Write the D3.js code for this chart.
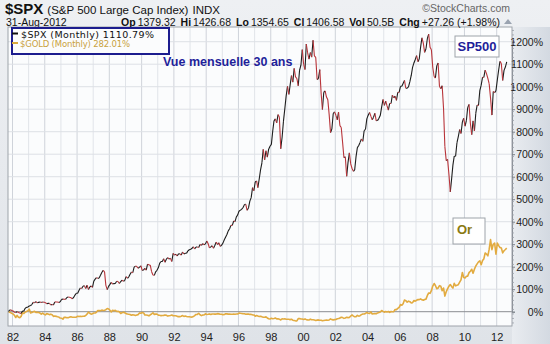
<!DOCTYPE html>
<html><head><meta charset="utf-8">
<script src="https://cdn.jsdelivr.net/npm/d3@7/dist/d3.min.js"></script>
<style>
html,body{margin:0;padding:0;background:#e8ebef;}
svg{display:block;font-family:"Liberation Sans",Arial,sans-serif;}
</style></head>
<body><svg id="c" width="550" height="344"></svg>
<script>
// ---- data (monthly closes, Sep 1981 .. Aug 2012) ----
const startYear = 1981, startMonth = 8; // September 1981
const spxClose = [
116.18,121.89,126.35,122.55,
120.40,113.11,111.96,116.44,111.88,109.61,107.09,119.51,120.42,133.71,138.54,140.64,
145.30,148.06,152.96,164.42,162.39,168.11,162.56,164.40,166.07,163.55,166.40,164.93,
163.41,157.06,159.18,160.05,150.55,153.18,150.66,166.68,166.10,166.09,163.58,167.24,
179.63,181.18,180.66,179.83,189.55,191.85,190.92,188.63,182.08,189.82,202.17,211.28,
211.78,226.92,238.90,235.52,247.35,250.84,236.12,252.93,231.32,243.98,249.22,242.17,
274.08,284.20,291.70,288.36,290.10,304.00,318.66,329.80,321.83,251.79,230.30,247.08,
257.07,267.82,258.89,261.33,262.16,273.50,272.02,261.52,271.91,278.97,273.70,277.72,
297.47,288.86,294.87,309.64,320.52,317.98,346.08,351.45,349.15,340.36,345.99,353.40,
329.08,331.89,339.94,330.80,361.23,358.02,356.15,322.56,306.05,304.00,322.22,330.22,
343.93,367.07,375.22,375.34,389.83,371.16,387.81,395.43,387.86,392.46,375.22,417.09,
408.79,412.70,403.69,414.95,415.35,408.14,424.21,414.03,417.80,418.68,431.35,435.71,
438.78,443.38,451.67,440.19,450.19,450.53,448.13,463.56,458.93,467.83,461.79,466.45,
481.61,467.14,445.77,450.91,456.50,444.27,458.26,475.49,462.69,472.35,453.69,459.27,
470.42,487.39,500.71,514.71,533.40,544.75,562.06,561.88,584.41,581.50,605.37,615.93,
636.02,640.43,645.50,654.17,669.12,670.63,639.95,651.99,687.31,705.27,757.02,740.74,
786.16,790.82,757.12,801.34,848.28,885.14,954.31,899.47,947.28,914.62,955.40,970.43,
980.28,1049.34,1101.75,1111.75,1090.82,1133.84,1120.67,957.28,1017.01,1098.67,1163.63,1229.23,
1279.64,1238.33,1286.37,1335.18,1301.84,1372.71,1328.72,1320.41,1282.71,1362.93,1388.91,1469.25,
1394.46,1366.42,1498.58,1452.43,1420.60,1454.60,1430.83,1517.68,1436.51,1429.40,1314.95,1320.28,
1366.01,1239.94,1160.33,1249.46,1255.82,1224.42,1211.23,1133.58,1040.94,1059.78,1139.45,1148.08,
1130.20,1106.73,1147.39,1076.92,1067.14,989.82,911.62,916.07,815.28,885.76,936.31,879.82,
855.70,841.15,848.18,916.92,963.59,974.50,990.31,1008.01,995.97,1050.71,1058.20,1111.92,
1131.13,1144.94,1126.21,1107.30,1120.68,1140.84,1101.72,1104.24,1114.58,1130.20,1173.82,1211.92,
1181.27,1203.60,1180.59,1156.85,1191.50,1191.33,1234.18,1220.33,1228.81,1207.01,1249.48,1248.29,
1280.08,1280.66,1294.87,1310.61,1270.09,1270.20,1276.66,1303.82,1335.85,1377.94,1400.63,1418.30,
1438.24,1406.82,1420.86,1482.37,1530.62,1503.35,1455.27,1473.99,1526.75,1549.38,1481.14,1468.36,
1378.55,1330.63,1322.70,1385.59,1400.38,1280.00,1267.38,1282.83,1166.36,968.75,896.24,903.25,
825.88,735.09,797.87,872.81,919.14,919.32,987.48,1020.62,1057.08,1036.19,1095.63,1115.10,
1073.87,1104.49,1169.43,1186.69,1089.41,1030.71,1101.60,1049.33,1141.20,1183.26,1180.55,1257.64,
1286.12,1327.22,1325.83,1363.61,1345.20,1320.64,1292.28,1218.89,1131.42,1253.30,1246.96,1257.60,
1312.41,1365.68,1408.47,1397.91,1310.33,1362.16,1379.32,1406.58
];
const goldClose = [
431,427,414,400,
387,362,320,361,325,317,342,411,397,423,436,448,
481,408,414,429,437,416,422,414,405,382,405,382,
370,394,388,375,384,373,342,348,342,333,329,309,
306,287,325,322,315,317,327,333,325,325,325,327,
345,339,345,340,343,345,357,384,423,401,383,391,
405,405,421,454,451,448,462,453,459,469,492,484,
458,426,457,449,456,436,437,431,397,413,422,410,
394,387,383,377,362,373,368,359,367,375,408,401,
415,407,368,368,363,352,372,387,408,380,384,386,
366,362,355,357,361,368,362,347,354,358,367,353,
354,353,341,336,337,343,357,340,349,339,334,333,
330,327,337,355,378,378,401,372,355,369,371,391,
378,381,389,376,387,388,384,385,394,389,383,383,
375,376,392,389,385,387,383,382,384,383,387,387,
405,400,396,392,391,382,385,387,379,379,371,369,
345,358,349,340,345,334,326,325,332,311,296,290,
304,297,301,310,293,296,288,273,294,292,294,287,
287,287,279,286,268,262,256,254,299,299,292,290,
283,293,278,274,272,288,276,277,273,264,269,274,
266,267,258,263,267,270,266,273,293,279,275,279,
282,296,301,308,326,318,304,312,323,317,319,347,
368,347,334,336,361,346,354,375,388,386,398,416,
403,397,427,388,393,395,391,408,415,425,453,438,
422,435,427,435,417,435,429,433,473,470,495,513,
568,556,582,654,643,613,633,623,599,604,646,632,
650,665,662,677,659,650,665,672,743,789,783,834,
923,971,933,871,885,930,918,833,884,730,814,869,
919,952,916,883,975,926,939,949,996,1040,1182,1087,
1078,1109,1113,1180,1207,1244,1169,1246,1307,1346,1386,1405,
1332,1410,1439,1556,1536,1500,1628,1813,1620,1722,1746,1531,
1744,1697,1662,1651,1558,1598,1622,1648
];
const yTicks = [0,100,200,300,400,500,600,700,800,900,1000,1100,1200];
const xTickYears = [1982,1984,1986,1988,1990,1992,1994,1996,1998,2000,2002,2004,2006,2008,2010,2012];
const legendLabels = ["$SPX (Monthly) 1110.79%", "$GOLD (Monthly) 282.01%"];
const quote = [["Op","1379.32"],["Hi","1426.68"],["Lo","1354.65"],["Cl","1406.58"],["Vol","50.5B"],["Chg","+27.26 (+1.98%)"]];

// ---- derived series ----
function toSeries(arr){
  const base = arr[0];
  return arr.map((v,i)=>({date:new Date(startYear, startMonth+i, 15), pct:(v/base-1)*100}));
}
const spx = toSeries(spxClose);
const gold = toSeries(goldClose);

// ---- layout ----
const svg = d3.select("#c");
const P = {l:8, r:512, t:27, b:326};
const x = d3.scaleTime().domain([new Date(1982,0,1), new Date(2012,0,1)]).range([12.5, 496.7]);
const y = d3.scaleLinear().domain([0,1200]).range([311.7, 41.7]);

const defs = svg.append("defs");
const bg = defs.append("linearGradient").attr("id","bg").attr("x1",0).attr("y1",0).attr("x2",0).attr("y2",1);
bg.append("stop").attr("offset","0%").attr("stop-color","#eef0f3");
bg.append("stop").attr("offset","100%").attr("stop-color","#dfe3e8");
const rg = defs.append("linearGradient").attr("id","rg").attr("x1",0).attr("y1",0).attr("x2",1).attr("y2",0);
rg.append("stop").attr("offset","0%").attr("stop-color","#e9ecf0");
rg.append("stop").attr("offset","100%").attr("stop-color","#d3d9e1");
defs.append("clipPath").attr("id","clip").append("rect")
  .attr("x",P.l).attr("y",P.t).attr("width",P.r-P.l).attr("height",P.b-P.t);

svg.append("rect").attr("width",550).attr("height",344).attr("fill","url(#bg)");
svg.append("rect").attr("x",P.r).attr("y",P.t).attr("width",550-P.r).attr("height",P.b-P.t+18).attr("fill","url(#rg)");
svg.append("rect").attr("x",P.l).attr("y",P.t).attr("width",P.r-P.l).attr("height",P.b-P.t)
  .attr("fill","#fbfcfd");

// grid
const g = svg.append("g").attr("clip-path","url(#clip)");
d3.range(1982, 2013).forEach(yr=>{
  const xx = x(new Date(yr,0,1));
  g.append("line").attr("x1",xx).attr("x2",xx).attr("y1",P.t).attr("y2",P.b)
    .attr("stroke", yr%2===0 ? "#cfd3da" : "#e1e4e9").attr("stroke-width",1);
});
yTicks.forEach(v=>{
  g.append("line").attr("x1",P.l).attr("x2",P.r).attr("y1",y(v)).attr("y2",y(v))
    .attr("stroke", v===0 ? "#8a8d92" : "#dde0e5").attr("stroke-width",1);
});

// gold line
const line = d3.line().x(d=>x(d.date)).y(d=>y(d.pct));
g.append("path").datum(gold).attr("d",line).attr("fill","none")
  .attr("stroke","#e2ab40").attr("stroke-width",1.6).attr("stroke-linejoin","round");

// spx line coloured by direction
const upSegs=[], dnSegs=[];
for(let i=1;i<spx.length;i++){
  (spx[i].pct>=spx[i-1].pct ? upSegs : dnSegs).push([spx[i-1],spx[i]]);
}
g.append("path").attr("d",upSegs.map(s=>line(s)).join(""))
  .attr("fill","none").attr("stroke","#1e1e1e").attr("stroke-width",1.1);
g.append("path").attr("d",dnSegs.map(s=>line(s)).join(""))
  .attr("fill","none").attr("stroke","#b8343a").attr("stroke-width",1.1);

// plot border
svg.append("rect").attr("x",P.l).attr("y",P.t).attr("width",P.r-P.l).attr("height",P.b-P.t)
  .attr("fill","none").attr("stroke","#9ea3aa").attr("stroke-width",1);

// right axis
const ya = svg.append("g").attr("transform",`translate(${P.r},0)`)
  .call(d3.axisRight(y).tickValues(yTicks).tickSize(3).tickFormat(d=>d+"%"));
ya.select(".domain").attr("stroke","#8c9198");
ya.selectAll(".tick line").attr("stroke","#7c8188");
ya.selectAll(".tick text").attr("x",31).attr("text-anchor","end")
  .attr("font-family","Liberation Sans, Arial, sans-serif").attr("font-size",10.5).attr("fill","#222");
// minor ticks
const minor = d3.range(-50,1351,20).filter(v=>y(v)>P.t && y(v)<P.b);
svg.append("g").selectAll("line").data(minor).join("line")
  .attr("x1",P.r).attr("x2",P.r+2).attr("y1",d=>y(d)).attr("y2",d=>y(d))
  .attr("stroke","#9aa0a8").attr("stroke-width",0.8);

// bottom axis
const xa = svg.append("g").attr("transform",`translate(0,${P.b})`)
  .call(d3.axisBottom(x).tickValues(xTickYears.map(yr=>new Date(yr,0,1))).tickSize(0).tickFormat(d3.timeFormat("%y")));
xa.select(".domain").remove();
xa.selectAll(".tick text").attr("dy","1.05em")
  .attr("font-family","Liberation Sans, Arial, sans-serif").attr("font-size",11).attr("fill","#222");

// header
const h1 = svg.append("text").attr("x",5).attr("y",14).attr("fill","#111");
h1.append("tspan").attr("font-weight","bold").attr("font-size",15).text("$SPX");
h1.append("tspan").attr("font-size",11.5).attr("dx",4).text("(S&P 500 Large Cap Index)");
h1.append("tspan").attr("font-size",11.5).attr("dx",4).text("INDX");
svg.append("text").attr("x",6).attr("y",26).attr("font-size",10.5).attr("fill","#111").text("31-Aug-2012");
const q = svg.append("text").attr("x",500).attr("y",26).attr("text-anchor","end").attr("font-size",10.5).attr("fill","#111");
quote.forEach((p,i)=>{
  q.append("tspan").attr("font-weight","bold").attr("dx", i? 5:0).text(p[0]);
  q.append("tspan").attr("dx",2).text(p[1]);
});
svg.append("path").attr("d","M504,24 L512,24 L508,19 Z").attr("fill","#9aa3b0");
svg.append("text").attr("x",510).attr("y",12).attr("text-anchor","end").attr("font-size",10.5)
  .attr("fill","#666").text("\u00A9StockCharts.com");

// legend
svg.append("rect").attr("x",12).attr("y",28).attr("width",157).attr("height",26)
  .attr("fill","#fbfcfd").attr("stroke","#1c1c8e").attr("stroke-width",2);
svg.append("line").attr("x1",12).attr("x2",18).attr("y1",33.5).attr("y2",33.5).attr("stroke","#111").attr("stroke-width",2);
svg.append("line").attr("x1",12).attr("x2",18).attr("y1",43).attr("y2",43).attr("stroke","#d8a83c").attr("stroke-width",2);
svg.append("text").attr("x",21).attr("y",37.5).attr("font-family","DejaVu Sans, Verdana, sans-serif")
  .attr("font-size",9.5).attr("fill","#111").attr("textLength",133).text(legendLabels[0]);
svg.append("text").attr("x",20).attr("y",47).attr("font-family","DejaVu Sans, Verdana, sans-serif")
  .attr("font-size",8.5).attr("fill","#c9a23e").attr("textLength",110).text(legendLabels[1]);

// annotations
svg.append("text").attr("x",163).attr("y",66).attr("font-weight","bold").attr("font-size",12.5)
  .attr("fill","#1f1f9a").text("Vue mensuelle 30 ans");
svg.append("rect").attr("x",455).attr("y",36).attr("width",44).attr("height",21)
  .attr("fill","#fff").attr("stroke","#9ea3aa").attr("stroke-width",1);
svg.append("text").attr("x",477).attr("y",51).attr("text-anchor","middle").attr("font-weight","bold")
  .attr("font-size",13).attr("fill","#1f1f9a").text("SP500");
svg.append("rect").attr("x",453).attr("y",218).attr("width",32).attr("height",26)
  .attr("fill","#fff").attr("stroke","#9ea3aa").attr("stroke-width",1);
svg.append("text").attr("x",457).attr("y",234).attr("font-weight","bold")
  .attr("font-size",13).attr("fill","#8a7a12").text("Or");
</script></body></html>
